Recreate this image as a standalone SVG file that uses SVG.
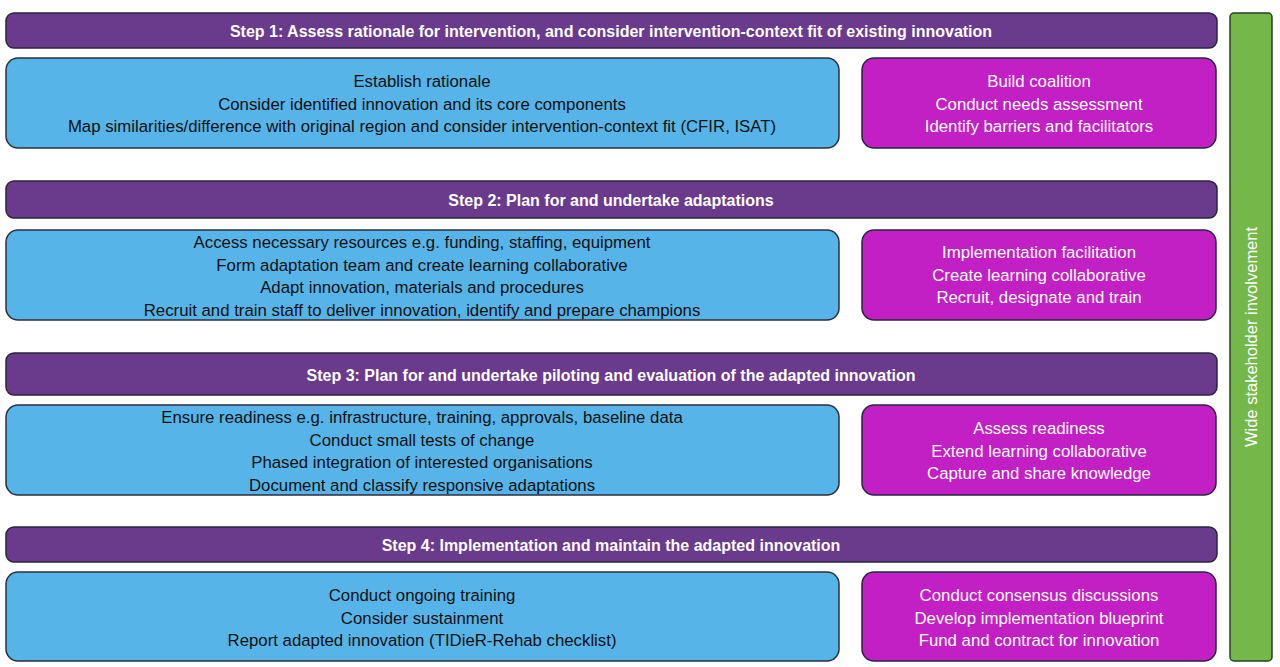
<svg xmlns="http://www.w3.org/2000/svg" width="1280" height="667" viewBox="0 0 1280 667">
<style>
.step rect{fill:#6a3a8c;stroke:#2a2540;stroke-width:1.5}
.step text{fill:#fff;font:bold 16px "Liberation Sans",sans-serif;text-anchor:middle}
.blue rect{fill:#56b4e9;stroke:#2a2f40;stroke-width:1.5}
.blue text{fill:#111;font:16.8px "Liberation Sans",sans-serif;text-anchor:middle}
.mag rect{fill:#c21fc4;stroke:#2a2540;stroke-width:1.5}
.mag text{fill:#fff;font:16.8px "Liberation Sans",sans-serif;text-anchor:middle}
</style>
<rect width="1280" height="667" fill="#fff"/>
<g id="step1" class="step"><rect x="6" y="13" width="1211" height="35" rx="8"/><text x="611" y="37">Step 1: Assess rationale for intervention, and consider intervention-context fit of existing innovation</text></g>
<g id="blue1" class="blue"><rect x="6" y="58" width="833" height="90" rx="12"/><text x="422" y="87">Establish rationale</text><text x="422" y="109.5">Consider identified innovation and its core components</text><text x="422" y="132">Map similarities/difference with original region and consider intervention-context fit (CFIR, ISAT)</text></g>
<g id="mag1" class="mag"><rect x="862" y="58" width="354" height="90" rx="12"/><text x="1039" y="87">Build coalition</text><text x="1039" y="109.5">Conduct needs assessment</text><text x="1039" y="132">Identify barriers and facilitators</text></g>
<g id="step2" class="step"><rect x="6" y="181" width="1211" height="37" rx="8"/><text x="611" y="206">Step 2: Plan for and undertake adaptations</text></g>
<g id="blue2" class="blue"><rect x="6" y="230" width="833" height="90" rx="12"/><text x="422" y="248">Access necessary resources e.g. funding, staffing, equipment</text><text x="422" y="270.5">Form adaptation team and create learning collaborative</text><text x="422" y="293">Adapt innovation, materials and procedures</text><text x="422" y="315.5">Recruit and train staff to deliver innovation, identify and prepare champions</text></g>
<g id="mag2" class="mag"><rect x="862" y="230" width="354" height="90" rx="12"/><text x="1039" y="258">Implementation facilitation</text><text x="1039" y="280.5">Create learning collaborative</text><text x="1039" y="303">Recruit, designate and train</text></g>
<g id="step3" class="step"><rect x="6" y="353" width="1211" height="42" rx="8"/><text x="611" y="381">Step 3: Plan for and undertake piloting and evaluation of the adapted innovation</text></g>
<g id="blue3" class="blue"><rect x="6" y="405" width="833" height="90" rx="12"/><text x="422" y="423">Ensure readiness e.g. infrastructure, training, approvals, baseline data</text><text x="422" y="445.5">Conduct small tests of change</text><text x="422" y="468">Phased integration of interested organisations</text><text x="422" y="490.5">Document and classify responsive adaptations</text></g>
<g id="mag3" class="mag"><rect x="862" y="405" width="354" height="90" rx="12"/><text x="1039" y="434">Assess readiness</text><text x="1039" y="456.5">Extend learning collaborative</text><text x="1039" y="479">Capture and share knowledge</text></g>
<g id="step4" class="step"><rect x="6" y="527" width="1211" height="35" rx="8"/><text x="611" y="551">Step 4: Implementation and maintain the adapted innovation</text></g>
<g id="blue4" class="blue"><rect x="6" y="572" width="833" height="89" rx="12"/><text x="422" y="601">Conduct ongoing training</text><text x="422" y="623.5">Consider sustainment</text><text x="422" y="646">Report adapted innovation (TIDieR-Rehab checklist)</text></g>
<g id="mag4" class="mag"><rect x="862" y="572" width="354" height="89" rx="12"/><text x="1039" y="601">Conduct consensus discussions</text><text x="1039" y="623.5">Develop implementation blueprint</text><text x="1039" y="646">Fund and contract for innovation</text></g>
<g id="stakeholder"><rect x="1230" y="13" width="42" height="648" rx="4" fill="#74b84a" stroke="#2a4020" stroke-width="1.5"/><text transform="translate(1257 337) rotate(-90)" fill="#fff" font-family="Liberation Sans,sans-serif" font-size="16.5" text-anchor="middle">Wide stakeholder involvement</text></g>
<g id="connectors"/>
</svg>
